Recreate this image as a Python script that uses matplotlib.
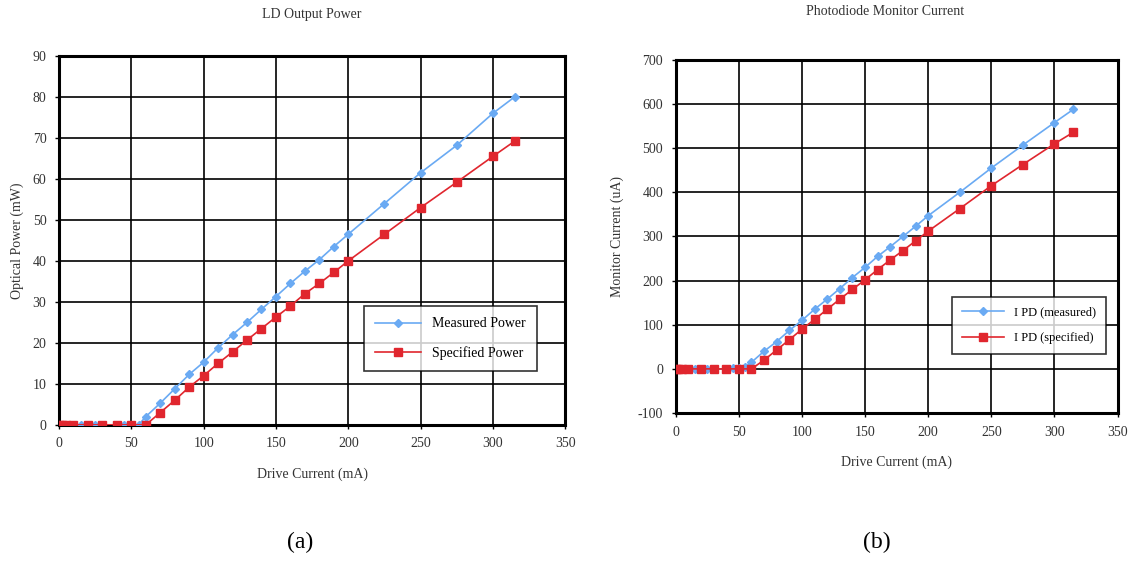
import matplotlib.pyplot as plt
import matplotlib as mpl

mpl.rcParams.update({
    "font.family": "serif",
    "font.serif": ["Liberation Serif", "DejaVu Serif"],
    "font.size": 10,
    "axes.unicode_minus": False,
})

# LD output power (mW) vs drive current (mA)
meas_x = [0, 5, 10, 15, 20, 25, 30, 40, 45, 50, 55, 60, 70, 80, 90, 100, 110, 120,
          130, 140, 150, 160, 170, 180, 190, 200, 225, 250, 275, 300, 315]
meas_p = [0, 0, 0, 0, 0, 0, 0, 0, 0, 0, 0, 2.0, 5.3, 8.8, 12.3, 15.3, 18.8, 22.0,
          25.0, 28.2, 31.3, 34.5, 37.5, 40.3, 43.5, 46.5, 54.0, 61.5, 68.2, 76.0, 80.0]
spec_x = [0, 2, 5, 10, 20, 30, 40, 50, 60, 70, 80, 90, 100, 110, 120, 130, 140, 150,
          160, 170, 180, 190, 200, 225, 250, 275, 300, 315]
spec_p = [0, 0, 0, 0, 0, 0, 0, 0, 0, 3.0, 6.0, 9.2, 12.0, 15.0, 17.8, 20.7, 23.5, 26.3,
          29.0, 32.0, 34.5, 37.2, 40.0, 46.5, 53.0, 59.2, 65.5, 69.2]

# photodiode monitor current (uA)
meas_i = [0, 0, 0, 0, 0, 0, 0, 0, 3, 3, 5, 15, 40, 62, 87, 110, 135, 158,
          182, 207, 230, 255, 277, 300, 323, 347, 400, 455, 507, 558, 588]
spec_i = [0, 0, 0, 0, 0, 0, 0, 0, 0, 20, 43, 66, 90, 112, 135, 158, 180, 202,
          225, 247, 268, 290, 312, 363, 415, 463, 510, 536]

blue = "#6aaaf3"
red = "#e0262e"
txt = "#333333"

fig = plt.figure(figsize=(11.3, 5.65), dpi=100)
ax1 = fig.add_axes([0.0522, 0.248, 0.448, 0.653])
ax2 = fig.add_axes([0.598, 0.269, 0.391, 0.625])


def style(ax, ylo, yhi, ystep):
    ax.set_xlim(0, 350)
    ax.set_ylim(ylo, yhi)
    ax.set_xticks(range(0, 351, 50))
    ax.set_yticks(range(ylo, yhi + 1, ystep))
    ax.grid(True, color="black", linewidth=1.2)
    ax.set_axisbelow(True)
    for s in ax.spines.values():
        s.set_linewidth(2.2)
    ax.tick_params(direction="out", length=3, width=1, labelsize=10,
                   labelcolor=txt, pad=6)
    ax.set_xlabel("Drive Current (mA)", color=txt, labelpad=12)


ax1.plot(meas_x, meas_p, "-D", color=blue, ms=4.5, lw=1.2, label="Measured Power", zorder=3)
ax1.plot(spec_x, spec_p, "-s", color=red, ms=6, lw=1.2, label="Specified Power", zorder=4)
style(ax1, 0, 90, 10)
ax1.set_ylabel("Optical Power (mW)", color=txt, labelpad=6)
leg1 = ax1.legend(loc="upper right", bbox_to_anchor=(0.957, 0.34), fancybox=False,
                  edgecolor="black", handlelength=3.3, borderpad=0.8,
                  labelspacing=1.1, fontsize=10)
leg1.get_frame().set_linewidth(1.2)

ax2.plot(meas_x, meas_i, "-D", color=blue, ms=4.5, lw=1.2, label="I PD (measured)", zorder=3)
ax2.plot(spec_x, spec_i, "-s", color=red, ms=6, lw=1.2, label="I PD (specified)", zorder=4)
style(ax2, -100, 700, 100)
ax2.set_ylabel("Monitor Current (uA)", color=txt, labelpad=10)
leg2 = ax2.legend(loc="upper right", bbox_to_anchor=(0.987, 0.347), fancybox=False,
                  edgecolor="black", handlelength=3.3, borderpad=0.8,
                  labelspacing=1.1, fontsize=9)
leg2.get_frame().set_linewidth(1.2)

fig.text(0.276, 0.975, "LD Output Power", fontsize=10, color=txt, ha="center", va="center")
fig.text(0.783, 0.979, "Photodiode Monitor Current", fontsize=10, color=txt,
         ha="center", va="center")
fig.text(0.266, 0.03, "(a)", fontsize=17, ha="center")
fig.text(0.776, 0.03, "(b)", fontsize=17, ha="center")

fig.savefig("out.png", dpi=100)
